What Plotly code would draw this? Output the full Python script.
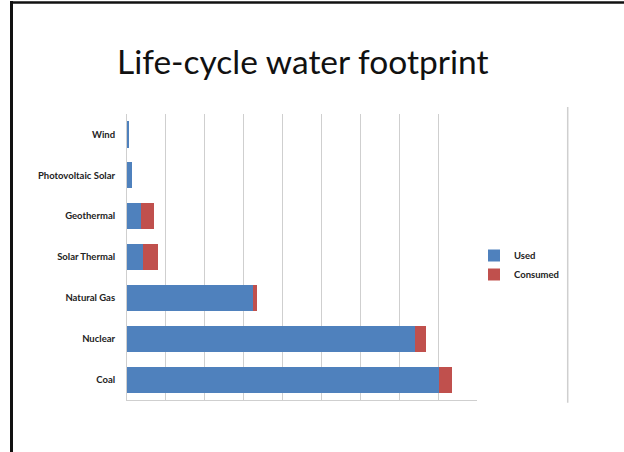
import plotly.graph_objects as go

categories = ["Coal", "Nuclear", "Natural Gas", "Solar Thermal", "Geothermal", "Photovoltaic Solar", "Wind"]
used = [801, 741, 325, 40, 35, 12, 4]
consumed = [35, 28, 8, 39, 34, 0, 0]
series_names = ["Used", "Consumed"]
colors = ["#4F81BD", "#C0504D"]

W, H = 624, 452
L, R, T, B = 127, 147, 114, 52
pw, ph = W - L - R, H - T - B

def px(x):
    return (x - L) / pw

def py(y):
    return (H - B - y) / ph

fig = go.Figure()
for name, vals, col in zip(series_names, [used, consumed], colors):
    fig.add_trace(go.Bar(y=categories, x=vals, name=name, orientation="h",
                         marker=dict(color=col, line=dict(width=0))))

fig.update_layout(
    width=W, height=H,
    margin=dict(l=L, r=R, t=T, b=B, pad=0),
    barmode="stack", bargap=0.36,
    plot_bgcolor="white", paper_bgcolor="white",
    font=dict(family="Lato, 'Open Sans', sans-serif", color="#222222"),
    showlegend=True,
    legend=dict(x=px(474), y=py(265), xanchor="left", yanchor="middle",
                traceorder="normal", itemwidth=30,
                font=dict(size=9.5, color="#222222", weight="bold"),
                bgcolor="rgba(0,0,0,0)", tracegroupgap=0),
    xaxis=dict(range=[0, 900], dtick=100, showticklabels=False, ticks="",
               showgrid=True, gridcolor="#CFCFCF", gridwidth=1,
               showline=True, linecolor="#CFCFCF", linewidth=1,
               zeroline=False, fixedrange=True),
    yaxis=dict(showgrid=False, ticks="", showline=True, linecolor="#CFCFCF",
               linewidth=1, tickfont=dict(size=9.5, color="#222222", weight="bold"),
               ticklabelstandoff=9, categoryorder="array", categoryarray=categories,
               fixedrange=True),
)

fig.add_annotation(text="Life-cycle water footprint", xref="paper", yref="paper",
                   x=px(115), y=py(61), xanchor="left", yanchor="middle",
                   showarrow=False, font=dict(size=33.5, color="#111111"))

# slide frame
fig.add_shape(type="line", xref="paper", yref="paper", x0=px(11), x1=px(630),
              y0=py(2.5), y1=py(2.5), line=dict(color="#111111", width=2.5))
fig.add_shape(type="line", xref="paper", yref="paper", x0=px(11.5), x1=px(11.5),
              y0=py(1), y1=py(460), line=dict(color="#111111", width=3))
# chart-area right edge
fig.add_shape(type="line", xref="paper", yref="paper", x0=px(567.7), x1=px(567.7),
              y0=py(107), y1=py(402.7), line=dict(color="#CFCFCF", width=1.5))

fig.write_html("out.html", config={"displayModeBar": False},
               post_script="document.body.style.margin='0';document.body.style.overflow='hidden';")
